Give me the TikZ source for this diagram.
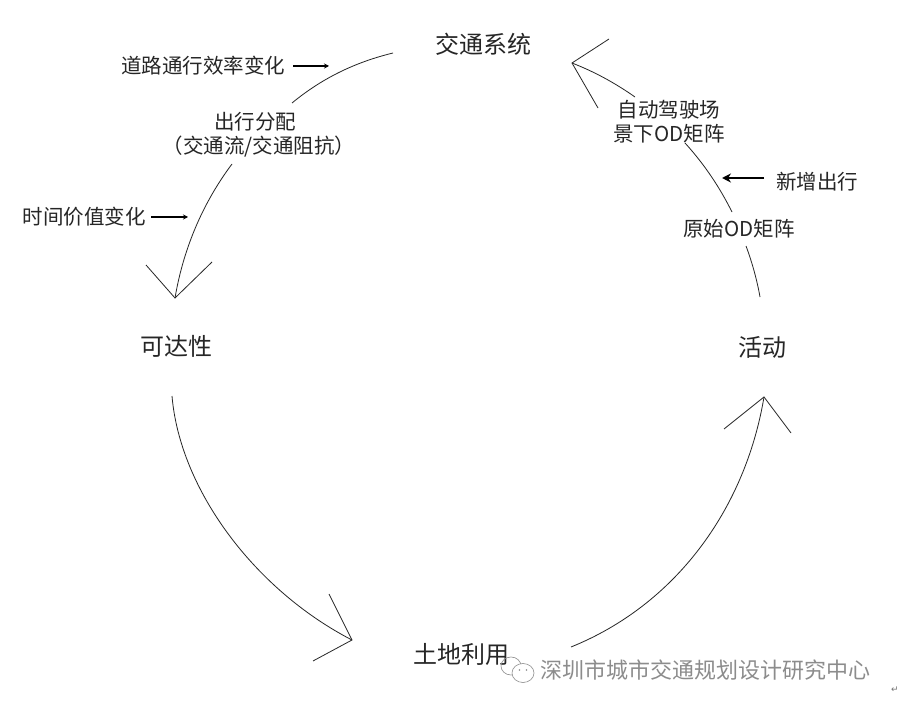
\documentclass[tikz,border=0pt]{standalone}
\usepackage{fontspec}
\setmainfont{Noto Sans CJK SC}
\newfontfamily\symfont{DejaVu Sans}
\usetikzlibrary{arrows.meta}
\tikzset{
  curve/.style={draw=black!85,line width=0.8pt},
  barb/.style={draw=black!85,line width=0.8pt},
  small/.style={draw=black,line width=1.1pt,-{Stealth[length=5pt,width=5pt]}},
  big/.style={font=\fontsize{24}{28}\selectfont,inner sep=0pt,text=black!85},
  lab/.style={font=\fontsize{20.5}{24}\selectfont,inner sep=0pt,text=black!85,align=center},
  wmline/.style={draw=black!45,line width=0.6pt,fill=white}
}
\begin{document}
\begin{tikzpicture}[x=1pt,y=-1pt]
\useasboundingbox (0,0) rectangle (899,708);
\fill[white] (0,0) rectangle (899,708);
% main labels
\node[big] (traffic) at (483,44) {交通系统};
\node[big] (access) at (176,346) {可达性};
\node[big] (activity) at (762,347) {活动};
\node[big] (landuse) at (461,654) {土地利用};
\node[lab] (assign) at (255,122) {出行分配};
\node[lab] (flow) at (259,147) {（交通流/交通阻抗）};
\node[lab] (road) at (203,66) {道路通行效率变化};
\node[lab] (time) at (84,217) {时间价值变化};
\node[lab] (avod) at (669,110) {自动驾驶场};
\node[lab] (avod2) at (669,134) {景下OD矩阵};
\node[lab] (newtrip) at (817,182) {新增出行};
\node[lab] (origod) at (739,229) {原始OD矩阵};
% end points
\coordinate (a1) at (393,53);
\coordinate (a2) at (292,103);
\coordinate (b1) at (232,164);
\coordinate (tipB) at (175,298);
\coordinate (c1) at (172,396);
\coordinate (tipC) at (352,640);
\coordinate (d1) at (571,647);
\coordinate (tipD) at (764,397);
\coordinate (e1) at (760,297);
\coordinate (e2) at (746,246);
\coordinate (f1) at (732,212);
\coordinate (f2) at (685,143);
\coordinate (g1) at (635,97);
\coordinate (tipG) at (572,63);
% arcs
\draw[curve] (a1) .. controls (352,63) and (320,80) .. (a2);
\draw[curve] (b1) .. controls (205,200) and (184,245) .. (tipB);
\draw[curve] (c1) .. controls (180,490) and (255,590) .. (tipC);
\draw[curve] (d1) .. controls (675,605) and (745,510) .. (tipD);
\draw[curve] (e1) .. controls (757,280) and (752,262) .. (e2);
\draw[curve] (f1) .. controls (720,188) and (705,165) .. (f2);
\draw[curve] (g1) .. controls (615,83) and (595,72) .. (tipG);
% open heads
\draw[barb] (146,265) -- (tipB) -- (212,262);
\draw[barb] (329,594) -- (tipC) -- (313,661);
\draw[barb] (724,429) -- (tipD) -- (791,433);
\draw[barb] (609,39) -- (tipG) -- (598,108);
% influence arrows
\coordinate (r1) at (293,66);
\coordinate (r2) at (329,66);
\coordinate (t1) at (151,217);
\coordinate (t2) at (188,217);
\coordinate (n1) at (764,178);
\coordinate (n2) at (722,178);
\draw[small] (r1) -- (r2);
\draw[small] (t1) -- (t2);
\draw[draw=black,line width=1.6pt,-{Stealth[length=9pt,width=9pt]}] (n1) -- (n2);
% watermark
\node[font=\fontsize{22}{26}\selectfont,inner sep=0pt,text=black!45] (wm) at (705.5,670) {深圳市城市交通规划设计研究中心};
\draw[draw=black!45,line width=0.6pt] (511,666) ellipse (10pt and 9pt);
\draw[wmline] (523,673) ellipse (11pt and 9.5pt);
\fill[black!45] (519.5,670) circle (0.9pt) (526.5,670) circle (0.9pt);
\node[font=\symfont\fontsize{9}{10}\selectfont,inner sep=0pt,text=black!55] (ret) at (895,690) {↵};
\end{tikzpicture}
\end{document}
